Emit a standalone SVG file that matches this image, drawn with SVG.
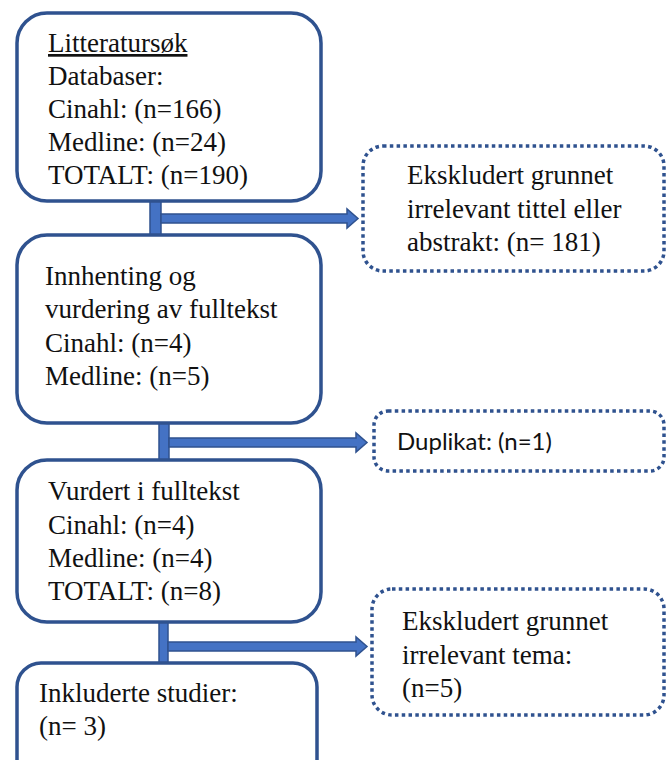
<svg xmlns="http://www.w3.org/2000/svg" width="667" height="760" viewBox="0 0 667 760">
<style>
.box{fill:#fff;stroke:#2F528F;stroke-width:3.5}
.dot{fill:#fff;stroke:#2F528F;stroke-width:3.5;stroke-dasharray:3.5 3.3}
.t{font-family:'Liberation Serif','Times New Roman',serif;font-size:27px;fill:#111}
.s{font-family:Lato,'Liberation Sans',sans-serif;font-size:24px;fill:#111}
.c{fill:#4472C4;stroke:#2F528F;stroke-width:1.5;stroke-linejoin:miter}
</style>
<rect width="667" height="760" fill="#fff"/>
<g id="connectors">
<rect class="c" x="150" y="200" width="11" height="36"/>
<path class="c" d="M161 214 H347 V209 L358 218.5 L347 228 V223 H161 Z"/>
<rect class="c" x="159" y="423" width="10" height="37"/>
<path class="c" d="M169 438 H356 V433 L367 442.5 L356 452 V447 H169 Z"/>
<rect class="c" x="159" y="622" width="9" height="41"/>
<path class="c" d="M168 642 H356 V637 L367 646.5 L356 656 V651 H168 Z"/>
</g>
<g id="litteratursok">
<rect class="box" x="17" y="13" width="304" height="188" rx="30"/>
<text class="t" x="48" y="52" text-decoration="underline">Litteratursøk</text>
<text class="t" x="48" y="85">Databaser:</text>
<text class="t" x="48" y="118">Cinahl: (n=166)</text>
<text class="t" x="48" y="151">Medline: (n=24)</text>
<text class="t" x="48" y="184">TOTALT: (n=190)</text>
</g>
<g id="innhenting">
<rect class="box" x="17" y="235" width="304" height="188" rx="30"/>
<text class="t" x="45" y="285">Innhenting og</text>
<text class="t" x="45" y="318">vurdering av fulltekst</text>
<text class="t" x="45" y="352">Cinahl: (n=4)</text>
<text class="t" x="45" y="385">Medline: (n=5)</text>
</g>
<g id="vurdert">
<rect class="box" x="17" y="460" width="304" height="162" rx="30"/>
<text class="t" x="48" y="500">Vurdert i fulltekst</text>
<text class="t" x="48" y="534">Cinahl: (n=4)</text>
<text class="t" x="48" y="567">Medline: (n=4)</text>
<text class="t" x="48" y="600">TOTALT: (n=8)</text>
</g>
<g id="inkluderte">
<rect class="box" x="17" y="663" width="300" height="130" rx="24"/>
<text class="t" x="39" y="702">Inkluderte studier:</text>
<text class="t" x="39" y="735">(n= 3)</text>
</g>
<g id="ekskludert1">
<rect class="dot" x="363" y="146" width="301" height="125" rx="20"/>
<text class="t" x="407" y="184">Ekskludert grunnet</text>
<text class="t" x="407" y="218">irrelevant tittel eller</text>
<text class="t" x="407" y="251">abstrakt: (n= 181)</text>
</g>
<g id="duplikat">
<rect class="dot" x="374" y="411" width="290" height="60" rx="14"/>
<text class="s" x="397" y="450">Duplikat: (n=1)</text>
</g>
<g id="ekskludert2">
<rect class="dot" x="372" y="589" width="292" height="126" rx="20"/>
<text class="t" x="402" y="630">Ekskludert grunnet</text>
<text class="t" x="402" y="664">irrelevant tema:</text>
<text class="t" x="402" y="697">(n=5)</text>
</g>
</svg>
